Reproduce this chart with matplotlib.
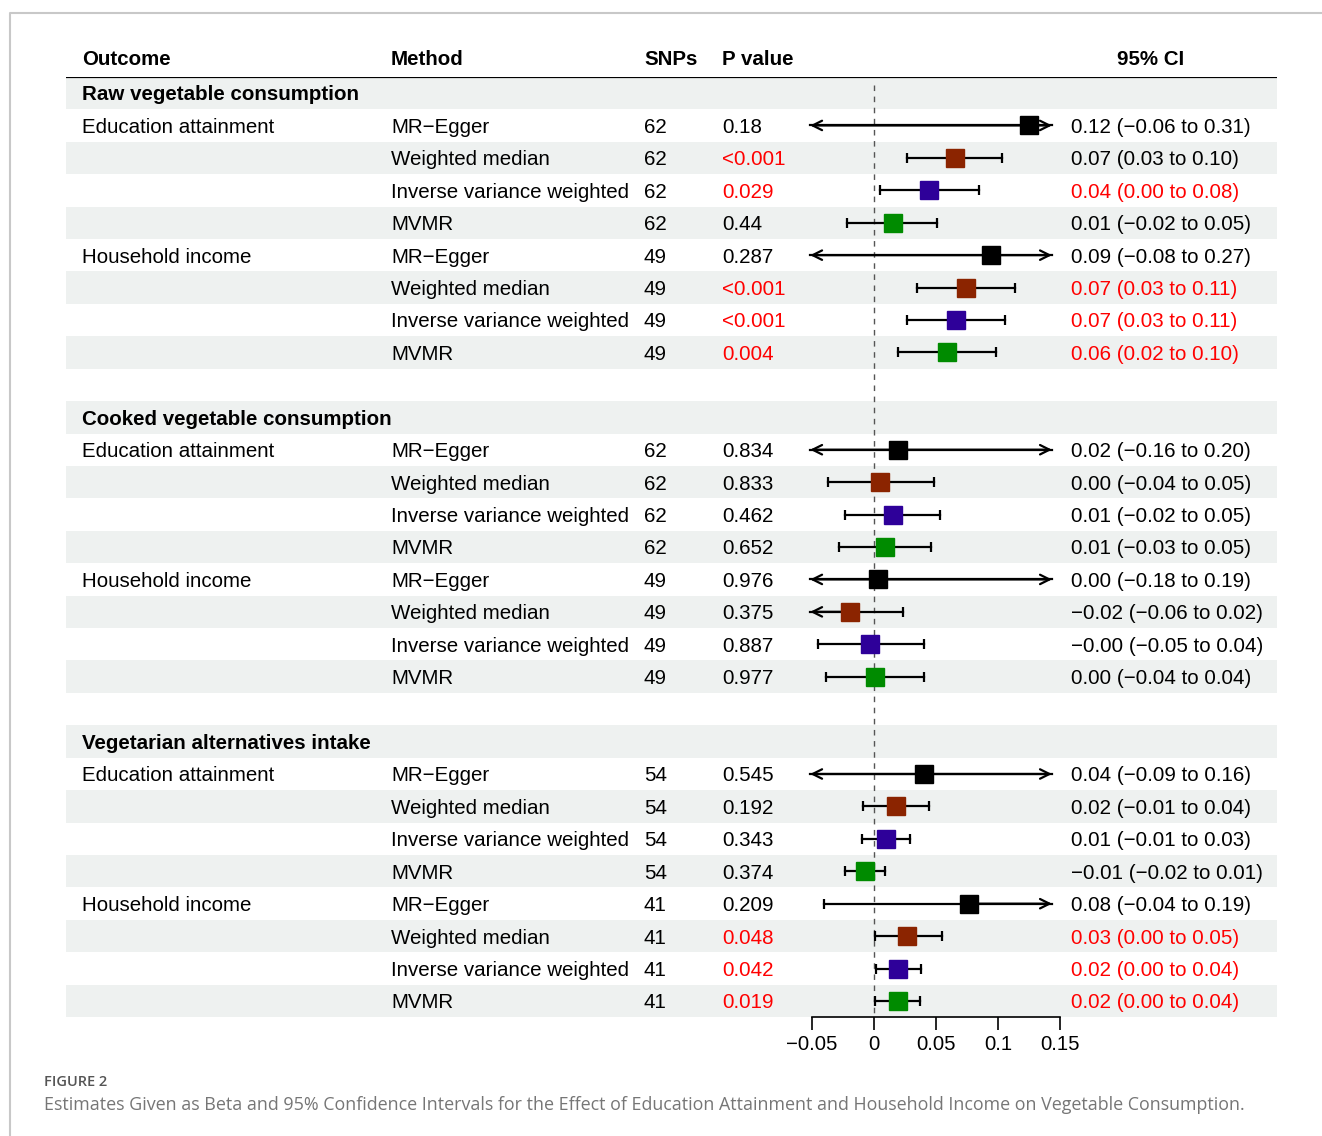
import matplotlib
matplotlib.use("Agg")
import matplotlib.pyplot as plt
from matplotlib.transforms import blended_transform_factory
from matplotlib.lines import Line2D

plt.rcParams['font.family'] = ['Liberation Sans', 'DejaVu Sans']

# ---- data ----
outcomes = ["Raw vegetable consumption", "Cooked vegetable consumption",
            "Vegetarian alternatives intake"]
exposures = ["Education attainment", "Household income"]
methods = ["MR\u2212Egger", "Weighted median", "Inverse variance weighted", "MVMR"]
method_colors = ["#000000", "#8b2400", "#2e0099", "#008b00"]

snps = [62, 62, 62, 62, 49, 49, 49, 49,
        62, 62, 62, 62, 49, 49, 49, 49,
        54, 54, 54, 54, 41, 41, 41, 41]
pvals = ["0.18", "<0.001", "0.029", "0.44", "0.287", "<0.001", "<0.001", "0.004",
         "0.834", "0.833", "0.462", "0.652", "0.976", "0.375", "0.887", "0.977",
         "0.545", "0.192", "0.343", "0.374", "0.209", "0.048", "0.042", "0.019"]
beta = [0.125, 0.065, 0.044, 0.015, 0.094, 0.074, 0.066, 0.059,
        0.019, 0.005, 0.015, 0.009, 0.003, -0.019, -0.003, 0.001,
        0.040, 0.018, 0.010, -0.007, 0.077, 0.027, 0.019, 0.019]
lower = [-0.06, 0.027, 0.005, -0.022, -0.08, 0.035, 0.027, 0.019,
         -0.16, -0.037, -0.023, -0.028, -0.18, -0.06, -0.045, -0.039,
         -0.09, -0.009, -0.010, -0.023, -0.04, 0.001, 0.002, 0.001]
upper = [0.31, 0.103, 0.085, 0.051, 0.27, 0.114, 0.106, 0.098,
         0.20, 0.048, 0.053, 0.046, 0.19, 0.023, 0.040, 0.040,
         0.16, 0.044, 0.029, 0.009, 0.19, 0.055, 0.038, 0.037]
ci_text = ["0.12 (\u22120.06 to 0.31)", "0.07 (0.03 to 0.10)", "0.04 (0.00 to 0.08)",
           "0.01 (\u22120.02 to 0.05)", "0.09 (\u22120.08 to 0.27)", "0.07 (0.03 to 0.11)",
           "0.07 (0.03 to 0.11)", "0.06 (0.02 to 0.10)",
           "0.02 (\u22120.16 to 0.20)", "0.00 (\u22120.04 to 0.05)", "0.01 (\u22120.02 to 0.05)",
           "0.01 (\u22120.03 to 0.05)", "0.00 (\u22120.18 to 0.19)", "\u22120.02 (\u22120.06 to 0.02)",
           "\u22120.00 (\u22120.05 to 0.04)", "0.00 (\u22120.04 to 0.04)",
           "0.04 (\u22120.09 to 0.16)", "0.02 (\u22120.01 to 0.04)", "0.01 (\u22120.01 to 0.03)",
           "\u22120.01 (\u22120.02 to 0.01)", "0.08 (\u22120.04 to 0.19)", "0.03 (0.00 to 0.05)",
           "0.02 (0.00 to 0.04)", "0.02 (0.00 to 0.04)"]
p_red = [False, True, True, False, False, True, True, True] + [False] * 8 + \
        [False, False, False, False, False, True, True, True]
ci_red = [False, False, True, False, False, True, True, True] + [False] * 8 + \
         [False, False, False, False, False, True, True, True]

xticks = [-0.05, 0, 0.05, 0.1, 0.15]
xtick_labels = ["\u22120.05", "0", "0.05", "0.1", "0.15"]

# ---- layout ----
W, H = 1322, 1136
fig = plt.figure(figsize=(W / 100, H / 100), dpi=100)

n_rows = 29
top_px, bot_px = 76.8, 1017.2
bg = fig.add_axes([66 / W, 1 - bot_px / H, (1277 - 66) / W, (bot_px - top_px) / H])
bg.set_xlim(0, 1)
bg.set_ylim(n_rows - 0.5, -0.5)
bg.axis("off")

ax = fig.add_axes([812 / W, 1 - bot_px / H, (1060 - 812) / W, (bot_px - top_px) / H])
ax.set_xlim(-0.05, 0.15)
ax.set_ylim(n_rows - 0.5, -0.5)
ax.patch.set_alpha(0)
for s in ["top", "left", "right"]:
    ax.spines[s].set_visible(False)
ax.spines["bottom"].set_linewidth(1.2)
ax.set_yticks([])
ax.set_xticks(xticks)
ax.set_xticklabels(xtick_labels, fontsize=14.7)
ax.tick_params(axis="x", length=9, width=1.2, pad=4)

shade = "#eef1f0"
tr = blended_transform_factory(fig.transFigure, bg.transData)
fs = 14.8
dy = 0.06
col_x = {"out": 82 / W, "met": 391 / W, "snp": 644 / W, "p": 722 / W, "ci": 1071 / W}

# header
hy = -1.08 + dy
for key, lab in [("out", "Outcome"), ("met", "Method"), ("snp", "SNPs"), ("p", "P value")]:
    bg.text(col_x[key], hy, lab, transform=tr, fontsize=fs, fontweight="bold",
            va="center", ha="left")
bg.text(1151 / W, hy, "95% CI", transform=tr, fontsize=fs, fontweight="bold",
        va="center", ha="center")
bg.axhline(-0.5, color="black", lw=1.6)

# rows
arrow_lo, arrow_hi = -0.0515, 0.1435
k = 0
for g, outc in enumerate(outcomes):
    base = g * 10
    for r in [base, base + 2, base + 4, base + 6, base + 8]:
        bg.axhspan(r - 0.5, r + 0.5, color=shade, lw=0, zorder=0)
    bg.text(col_x["out"], base + dy, outc, transform=tr, fontsize=fs, fontweight="bold",
            va="center", ha="left")
    for e, expo in enumerate(exposures):
        for m, meth in enumerate(methods):
            y = base + 1 + e * 4 + m
            ty = y + dy
            if m == 0:
                bg.text(col_x["out"], ty, expo, transform=tr, fontsize=fs, va="center")
            bg.text(col_x["met"], ty, meth, transform=tr, fontsize=fs, va="center")
            bg.text(col_x["snp"], ty, str(snps[k]), transform=tr, fontsize=fs, va="center")
            bg.text(col_x["p"], ty, pvals[k], transform=tr, fontsize=fs, va="center",
                    color="#ff0000" if p_red[k] else "black")
            bg.text(col_x["ci"], ty, ci_text[k], transform=tr, fontsize=fs, va="center",
                    color="#ff0000" if ci_red[k] else "black")

            lo, hi, b = lower[k], upper[k], beta[k]
            x0 = max(lo, arrow_lo)
            x1 = min(hi, arrow_hi)
            ax.plot([x0, x1], [y, y], color="black", lw=1.6, zorder=2, clip_on=False)
            if lo < -0.05:
                ax.annotate("", xy=(arrow_lo, y), xytext=(b, y),
                            arrowprops=dict(arrowstyle="->", lw=1.6, color="black",
                                            mutation_scale=17, shrinkA=0, shrinkB=0),
                            annotation_clip=False)
            else:
                ax.plot([lo], [y], marker="|", ms=7, mew=1.6, color="black", clip_on=False)
            if hi > 0.15:
                ax.annotate("", xy=(arrow_hi, y), xytext=(b, y),
                            arrowprops=dict(arrowstyle="->", lw=1.6, color="black",
                                            mutation_scale=17, shrinkA=0, shrinkB=0),
                            annotation_clip=False)
            else:
                ax.plot([hi], [y], marker="|", ms=7, mew=1.6, color="black", clip_on=False)
            ax.plot([b], [y], marker="s", ms=13, color=method_colors[m],
                    mec=method_colors[m], zorder=3, clip_on=False)
            k += 1

# reference line at zero
ax.plot([0, 0], [-0.25, n_rows - 0.5], color="#555555", lw=1, ls=(0, (4, 4)),
        zorder=1, clip_on=False)

# frame and caption
fig.add_artist(Line2D([10 / W, 10 / W, 1], [0, 1 - 13 / H, 1 - 13 / H],
                      transform=fig.transFigure, color="#c8c8c8", lw=1.5))
fig.text(44 / W, 1 - 1082 / H, "FIGURE 2", fontsize=10.5, color="#555555",
         family=["Open Sans", "DejaVu Sans"], fontweight="semibold",
         va="center", ha="left")
fig.text(44 / W, 1 - 1105 / H,
         "Estimates Given as Beta and 95% Confidence Intervals for the Effect of "
         "Education Attainment and Household Income on Vegetable Consumption.",
         fontsize=12.9, color="#767676", family=["Open Sans", "DejaVu Sans"],
         va="center", ha="left")

fig.savefig("out.png", dpi=100)
